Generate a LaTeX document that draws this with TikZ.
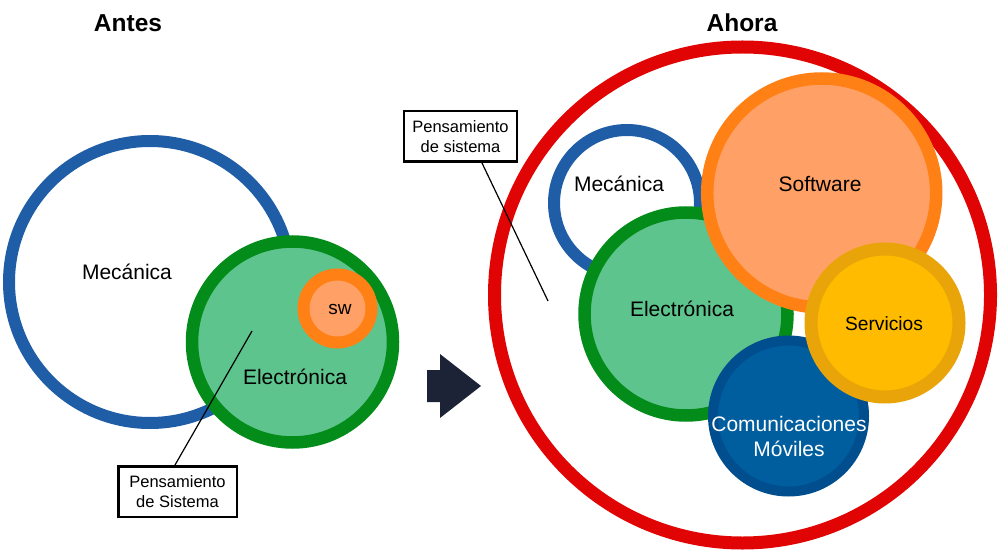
\documentclass[tikz,border=0pt]{standalone}
\usepackage{fontspec}
\setmainfont{Liberation Sans}
\definecolor{blueR}{RGB}{31,94,166}
\definecolor{greenRing}{RGB}{4,140,26}
\definecolor{greenFill}{RGB}{94,196,141}
\definecolor{orangeRing}{RGB}{255,128,20}
\definecolor{orangeFill}{RGB}{255,161,102}
\definecolor{redR}{RGB}{224,4,4}
\definecolor{yellowRing}{RGB}{232,164,8}
\definecolor{yellowFill}{RGB}{254,187,0}
\definecolor{navyRing}{RGB}{0,78,142}
\definecolor{navyFill}{RGB}{1,94,158}
\definecolor{arrowC}{RGB}{28,35,54}
\begin{document}
\begin{tikzpicture}[x=1pt,y=-1pt,
  ring/.style={circle, inner sep=0pt, outer sep=0pt},
  lbl/.style={font=\fontsize{21}{24}\selectfont, text=black, inner sep=0pt, text height=15pt, text depth=0pt},
  ttl/.style={font=\bfseries\fontsize{24.5}{28}\selectfont, inner sep=0pt, text height=18pt, text depth=0pt},
  callout/.style={draw=black, line width=2.5pt, fill=white, align=center, font=\fontsize{16.5}{20}\selectfont, inner sep=0pt, minimum height=50.5pt},
  leader/.style={draw=black, line width=1.2pt}]
\useasboundingbox (0,0) rectangle (1000,553);

% titles
\node[ttl] (antes) at (128,23) {Antes};
\node[ttl] (ahora) at (742,23) {Ahora};

% ---- left ----
\node[ring, draw=blueR, line width=12pt, minimum size=282pt] (mecL) at (150,282) {};
\node[ring, draw=greenRing, fill=greenFill, line width=12.5pt, minimum size=201pt] (elecL) at (292.5,342) {};
\node[ring, draw=orangeRing, fill=orangeFill, line width=12pt, minimum size=68pt] (swL) at (337.5,308.5) {};
\node[lbl] (mecLt) at (127,272) {Mecánica};
\node[lbl] (elecLt) at (295,377) {Electrónica};
\node[lbl, font=\fontsize{19}{22}\selectfont, text height=10pt] (swLt) at (340,309) {sw};

\coordinate (p1) at (252,331);
\node[callout, minimum width=118.5pt] (box1) at (177.5,491.5) {Pensamiento\\de Sistema};
\draw[leader] ([xshift=-2.5pt]box1.north) -- (p1);

% ---- arrow ----
\fill[arrowC] (427,370) -- (440,370) -- (440,354) -- (481,386) -- (440,418) -- (440,402) -- (427,402) -- cycle;

% ---- right ----
\node[ring, draw=redR, line width=13pt, minimum size=496pt] (redC) at (742.5,295) {};
\node[ring, draw=blueR, line width=12pt, minimum size=146pt] (mecR) at (627,203) {};
\node[ring, draw=greenRing, fill=greenFill, line width=12.5pt, minimum size=203pt] (elecR) at (686,314) {};
\node[ring, draw=orangeRing, fill=orangeFill, line width=12.5pt, minimum size=229pt] (softR) at (821.7,193) {};
\node[ring, draw=navyRing, fill=navyFill, line width=10pt, minimum size=151pt] (commR) at (788.5,416) {};
\node[ring, draw=yellowRing, fill=yellowFill, line width=13pt, minimum size=148pt] (servR) at (885,323) {};

\node[lbl] (mecRt) at (619,184) {Mecánica};
\node[lbl] (elecRt) at (682,309) {Electrónica};
\node[lbl] (softRt) at (820,184) {Software};
\node[lbl, font=\fontsize{19.2}{22}\selectfont, text height=13.8pt] (servRt) at (884,324) {Servicios};
\node[lbl, text=white] (commRt1) at (789,424) {Comunicaciones};
\node[lbl, text=white] (commRt2) at (789,449) {Móviles};

\coordinate (p2) at (548,301);
\node[callout, minimum width=113pt] (box2) at (460.5,136.5) {Pensamiento\\de sistema};
\draw[leader] ([xshift=21.5pt]box2.south) -- (p2);
\end{tikzpicture}
\end{document}
